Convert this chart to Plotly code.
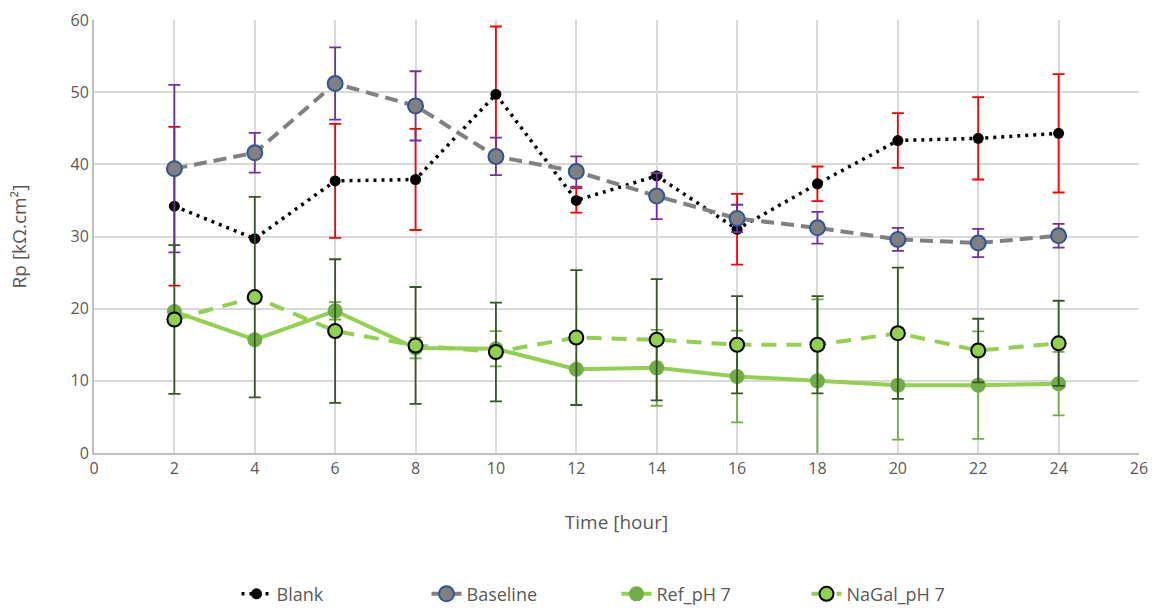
import plotly.graph_objects as go

time_h = [2, 4, 6, 8, 10, 12, 14, 16, 18, 20, 22, 24]

blank = [34.2, 29.7, 37.7, 37.9, 49.7, 35.0, 38.4, 31.0, 37.3, 43.3, 43.6, 44.3]
blank_err = [11.0, None, 7.9, 7.0, 9.4, 1.7, None, 4.9, 2.4, 3.8, 5.7, 8.2]

baseline = [39.4, 41.6, 51.2, 48.1, 41.1, 39.0, 35.6, 32.5, 31.2, 29.6, 29.1, 30.1]
baseline_err = [11.6, 2.75, 5.0, 4.8, 2.6, 2.1, 3.2, 1.9, 2.2, 1.6, 1.95, 1.65]

ref_ph7 = [19.6, 15.7, 19.7, 14.55, 14.45, 11.6, 11.8, 10.6, 10.0, 9.4, 9.4, 9.6]
ref_ph7_err = [None, None, 1.2, 1.45, 2.45, None, 5.25, 6.35, 11.3, 7.55, 7.45, 4.4]

nagal_ph7 = [18.5, 21.6, 16.9, 14.9, 14.0, 16.0, 15.7, 15.0, 15.0, 16.6, 14.2, 15.2]
nagal_ph7_err = [10.3, 13.9, 9.95, 8.1, 6.85, 9.35, 8.4, 6.75, 6.75, 9.1, 4.4, 5.9]

x_ticks = list(range(0, 27, 2))

FONT = "Open Sans"
TEXT = "#595959"


def err(values, color):
    return dict(type="data", array=values, visible=True, color=color,
                thickness=1.8, width=6)


fig = go.Figure()

fig.add_trace(go.Scatter(
    x=time_h, y=blank, name="Blank", mode="lines+markers",
    line=dict(color="black", width=3.5, dash="3px,5px"),
    marker=dict(color="black", size=11),
    error_y=err(blank_err, "#FF0000"),
))

fig.add_trace(go.Scatter(
    x=time_h, y=baseline, name="Baseline", mode="lines+markers",
    line=dict(color="#808080", width=4, dash="13px,7px"),
    marker=dict(color="#808080", size=15, line=dict(color="#2F5597", width=2)),
    error_y=err(baseline_err, "#7030A0"),
))

fig.add_trace(go.Scatter(
    x=time_h, y=ref_ph7, name="Ref_pH 7", mode="lines+markers",
    line=dict(color="#92D050", width=4),
    marker=dict(color="#70AD47", size=15),
    error_y=err(ref_ph7_err, "#70AD47"),
))

fig.add_trace(go.Scatter(
    x=time_h, y=nagal_ph7, name="NaGal_pH 7", mode="lines+markers",
    line=dict(color="#92D050", width=4, dash="15px,10px"),
    marker=dict(color="#92D050", size=14, line=dict(color="black", width=2)),
    error_y=err(nagal_ph7_err, "#375623"),
))

fig.update_layout(
    width=1158, height=610,
    margin=dict(l=94, r=19, t=20, b=157, autoexpand=False),
    paper_bgcolor="white", plot_bgcolor="white",
    font=dict(family=FONT, color=TEXT, size=16),
    showlegend=True,
    legend=dict(orientation="h", x=0.5, xanchor="center",
                yref="container", y=0.026, yanchor="middle",
                font=dict(size=18, color=TEXT), traceorder="normal",
                entrywidth=145, entrywidthmode="pixels"),
)

fig.update_xaxes(
    range=[0, 26], tickvals=x_ticks, ticktext=[str(t) for t in x_ticks],
    showgrid=True, gridcolor="#D9D9D9", gridwidth=1.5,
    showline=True, linecolor="#BFBFBF", linewidth=2,
    zeroline=False, ticks="", tickfont=dict(size=16, color=TEXT),
    title=dict(text="Time [hour]", font=dict(size=19, color=TEXT), standoff=37),
)

fig.update_yaxes(
    range=[0, 60], dtick=10,
    showgrid=True, gridcolor="#D9D9D9", gridwidth=1.5,
    showline=True, linecolor="#BFBFBF", linewidth=2,
    zeroline=False, ticks="", tickfont=dict(size=16, color=TEXT),
    title=dict(text="Rp [kΩ.cm²]", font=dict(size=19, color=TEXT), standoff=39),
)

fig.write_html("out.html")
